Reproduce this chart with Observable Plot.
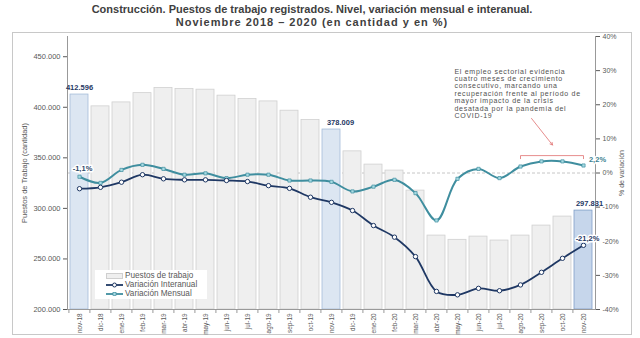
<!DOCTYPE html>
<html><head><meta charset="utf-8">
<script src="https://cdn.jsdelivr.net/npm/d3@7"></script>
<script src="https://cdn.jsdelivr.net/npm/@observablehq/plot@0.6"></script>
<style>
body{margin:0;background:#fff;font-family:"Liberation Sans",Arial,sans-serif;}
#wrap{position:relative;width:640px;height:338px;overflow:hidden;}
#title{position:absolute;left:0;top:3px;width:624px;text-align:center;font-weight:bold;font-size:11px;line-height:12.5px;color:#404040;}
#title span{letter-spacing:1px;}
#box{position:absolute;left:12px;top:32px;width:618px;height:301px;border:1px solid #c8c8c8;}
#chart{position:absolute;left:0;top:31px;}
#legend{position:absolute;left:95px;top:270px;width:112px;height:29px;background:#fff;font-size:8.2px;color:#595959;}
#legend div{position:absolute;left:11px;height:9px;line-height:9px;white-space:nowrap;}
#legend svg{vertical-align:middle;margin-right:2px;}
</style></head>
<body>
<div id="wrap">
<div id="box"></div>
<div id="title">Construcción. Puestos de trabajo registrados. Nivel, variación mensual e interanual.<br><span>Noviembre 2018 – 2020 (en cantidad y en %)</span></div>
<div id="chart"></div>
<div id="legend">
 <div style="top:1px"><svg width="17" height="6"><rect x="0.5" y="0.5" width="16" height="5" fill="#efefef" stroke="#cfcfcf"/></svg>Puestos de trabajo</div>
 <div style="top:10px"><svg width="17" height="6"><line x1="0" y1="3" x2="17" y2="3" stroke="#1f3864" stroke-width="1.8"/><circle cx="8.5" cy="3" r="2" fill="#fff" stroke="#1f3864"/></svg>Variación Interanual</div>
 <div style="top:19px"><svg width="17" height="6"><line x1="0" y1="3" x2="17" y2="3" stroke="#3f8e9f" stroke-width="1.8"/><rect x="7" y="1.5" width="3" height="3" fill="#a8dbe4" stroke="#3f8e9f" stroke-width="0.7"/></svg>Variación Mensual</div>
</div>
</div>
<script>
const months = ["nov-18","dic-18","ene-19","feb-19","mar-19","abr-19","may-19","jun-19","jul-19","ago-19","sep-19","oct-19","nov-19","dic-19","ene-20","feb-20","mar-20","abr-20","may-20","jun-20","jul-20","ago-20","sep-20","oct-20","nov-20"];
const puestos = [412596,400900,404800,414000,419000,418000,417400,411500,408200,405800,396600,387400,378009,356400,343300,337400,317600,273100,268900,272100,268200,273100,283000,291900,297831];
const interanual = [-4.6,-4.2,-2.7,-0.5,-1.7,-2.0,-2.0,-2.2,-2.5,-3.7,-4.5,-7.1,-8.6,-11.0,-15.4,-18.8,-24.5,-34.7,-35.7,-33.8,-34.5,-32.8,-29.1,-25.0,-21.2];
const mensual = [-1.1,-2.9,0.9,2.4,1.2,-0.5,-0.1,-1.5,-0.5,-0.5,-2.2,-2.2,-2.6,-5.4,-4.0,-2.0,-5.9,-13.9,-1.7,1.2,-1.5,1.9,3.4,3.4,2.2];
const highlight = ["nov-18","nov-19","nov-20"];
const leftTicks = [200000,250000,300000,350000,400000,450000];
const rightTicks = [-40,-30,-20,-10,0,10,20,30,40];
const annotationLines = ["El empleo sectorial evidencia","cuatro meses de crecimiento","consecutivo, marcando una","recuperación frente al período de","mayor impacto de la crisis","desatada por la pandemia del","COVID-19"];
const bracketMonths = ["ago-20","ago-20","nov-20","nov-20"];
const bracketPct = [4.2,5.1,5.1,4.2];

const Y0 = 200000, Y1 = 470000, P0 = -40, P1 = 40;
const toY = p => Y0 + (p - P0) * (Y1 - Y0) / (P1 - P0);
const fromY = v => P0 + (v - Y0) * (P1 - P0) / (Y1 - Y0);
const loc = d3.formatLocale({decimal: ",", thousands: ".", grouping: [3], currency: ["", ""], minus: "-"});
const fmtInt = loc.format(",d");
const fmtPct = v => loc.format(",.1f")(v) + "%";

const data = months.map((m, i) => ({m, puestos: puestos[i], inter: interanual[i], mens: mensual[i]}));
const byM = Object.fromEntries(data.map(d => [d.m, d]));
const bracket = bracketMonths.map((m, i) => ({m, y: toY(bracketPct[i])}));

const mL = 67, mR = 45, W = 640;
const pi = 0.15, po = 0.05;
const step = (W - mL - mR) / (months.length - pi + 2 * po);

const navy = "#1f3864", teal = "#3f8e9f";
const barFill = d => d.m === "nov-20" ? "#c6d6eb" : highlight.includes(d.m) ? "#dce6f2" : "#efefef";
const barStroke = d => d.m === "nov-20" ? "#7f9fc8" : highlight.includes(d.m) ? "#a5bcd9" : "#d0d0d0";

const barLabel = (m, dx) => Plot.text([byM[m]], {x: "m", y: "puestos", text: d => fmtInt(d.puestos), dy: -7, dx, fontSize: 7.5, fontWeight: "bold", fill: navy});
const pctLabel = (m, key, dx, dy, fill) => Plot.text([byM[m]], {x: "m", y: d => toY(d[key]), text: d => fmtPct(d[key]), dx, dy, fontSize: 7.5, fontWeight: "bold", fill, stroke: "white", strokeWidth: 3, paintOrder: "stroke"});

const chart = Plot.plot({
  width: W, height: 307, marginTop: 5, marginBottom: 29, marginLeft: mL, marginRight: mR,
  style: {fontFamily: "'Liberation Sans', Arial, sans-serif", fontSize: "7px", color: "#595959", background: "transparent"},
  x: {domain: months, paddingInner: pi, paddingOuter: po, label: null},
  y: {domain: [Y0, Y1], label: null},
  marks: [
    Plot.ruleY([toY(0)], {stroke: "#b8b8b8", strokeDasharray: "3,2", strokeWidth: 0.8}),
    Plot.barY(data, {x: "m", y1: Y0, y2: "puestos", fill: barFill, stroke: barStroke, strokeWidth: 0.8}),
    Plot.line(data, {x: "m", y: d => toY(d.mens), stroke: teal, strokeWidth: 2, curve: "catmull-rom"}),
    Plot.dot(data, {x: "m", y: d => toY(d.mens), symbol: "square", r: 1.8, fill: "#a8dbe4", stroke: teal, strokeWidth: 0.7}),
    Plot.line(data, {x: "m", y: d => toY(d.inter), stroke: navy, strokeWidth: 1.8, curve: "catmull-rom"}),
    Plot.dot(data, {x: "m", y: d => toY(d.inter), r: 2.2, fill: "white", stroke: navy, strokeWidth: 1}),
    Plot.ruleY([Y0], {stroke: "#999"}),
    Plot.frame({anchor: "left", stroke: "#999"}),
    Plot.frame({anchor: "right", stroke: "#999"}),
    Plot.axisX({tickSize: 4, tickFormat: () => "", dx: -step / 2, stroke: "#999"}),
    Plot.axisX({tickSize: 0, tickPadding: 4, tickRotate: -90, fontSize: 6.4, fill: "#595959"}),
    Plot.axisY(leftTicks, {anchor: "left", tickSize: 4, tickPadding: 3, tickFormat: fmtInt, fontSize: 7.5, label: "Puestos de Trabajo (cantidad)", labelAnchor: "center", labelOffset: 46, labelArrow: "none"}),
    Plot.axisY(rightTicks.map(toY), {anchor: "right", tickSize: 4, tickPadding: 3, tickFormat: v => Math.round(fromY(v)) + "%", fontSize: 7, label: "% de variación", labelAnchor: "center", labelOffset: 28, labelArrow: "none"}),
    barLabel("nov-18", 0),
    barLabel("nov-19", 9),
    barLabel("nov-20", 6),
    pctLabel("nov-18", "mens", 3, -8, "#2f4a6b"),
    pctLabel("nov-20", "mens", 14, -6, "#3c7f90"),
    pctLabel("nov-20", "inter", 4, -7, navy),
    Plot.line(bracket, {x: "m", y: "y", stroke: "#e07070", strokeWidth: 0.8}),
    Plot.arrow([{a: "ago-20", b: "sep-20", y1: toY(16), y2: toY(8.2)}], {x1: "a", x2: "b", y1: "y1", y2: "y2", dx: 11, stroke: "#e07070", strokeWidth: 0.8, headLength: 5}),
    Plot.text([{m: "may-20", y: toY(30.6), t: annotationLines.join("\n")}], {x: "m", y: "y", text: "t", dx: -3, textAnchor: "start", lineAnchor: "top", lineHeight: 1.05, fontSize: 7, fill: "#505050"})
  ]
});
d3.select(chart).selectAll("text").filter(function() { return this.textContent.includes("COVID"); }).style("letter-spacing", "0.7px");
document.getElementById("chart").appendChild(chart);
</script>
</body></html>
